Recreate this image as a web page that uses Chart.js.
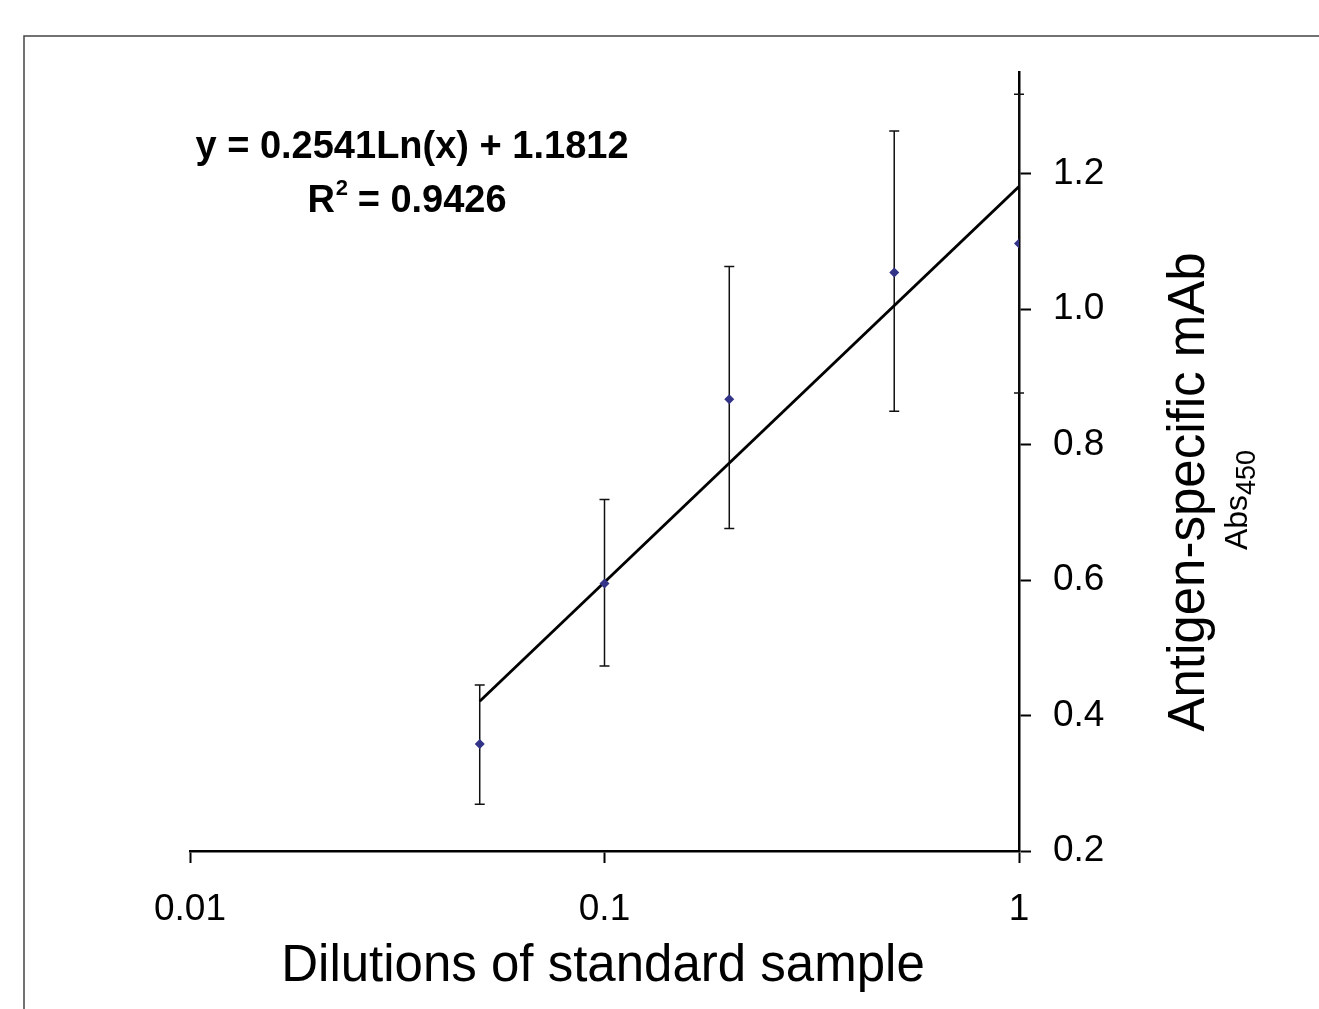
<!DOCTYPE html>
<html>
<head>
<meta charset="utf-8">
<script src="https://cdn.jsdelivr.net/npm/chart.js@4"></script>
<style>
  html, body { margin: 0; padding: 0; background: #fff; }
  #wrap { width: 1319px; height: 1009px; position: relative; }
</style>
</head>
<body>
<div id="wrap"><canvas id="chart" width="1319" height="1009"></canvas></div>
<script>
// data
const dilutions = [0.05, 0.1, 0.2, 0.5, 1];
const absMean = [0.358, 0.595, 0.867, 1.054, 1.097];
const errLow = [0.269, 0.473, 0.676, 0.849, 0.876];
const errHigh = [0.445, 0.719, 1.063, 1.263, 1.317];
// logarithmic trendline end points
const trendX = [0.05, 1];
const trendY = [0.421, 1.181];
const xTicks = [0.01, 0.1, 1];
const yTicks = [0.2, 0.4, 0.6, 0.8, 1.0, 1.2];

const FONT = '"Liberation Sans", Arial, sans-serif';

// error bars, drawn under the line and markers
const errorBars = {
    id: 'errorBars',
    beforeDatasetsDraw(chart) {
        const ctx = chart.ctx;
        const xs = chart.scales.x, ys = chart.scales.y;
        ctx.save();
        ctx.strokeStyle = '#111';
        ctx.lineWidth = 1.5;
        dilutions.forEach((d, i) => {
            const px = xs.getPixelForValue(d);
            const top = ys.getPixelForValue(errHigh[i]);
            const bot = ys.getPixelForValue(errLow[i]);
            ctx.beginPath();
            ctx.moveTo(px, top); ctx.lineTo(px, bot);
            ctx.moveTo(px - 5, top); ctx.lineTo(px + 5, top);
            ctx.moveTo(px - 5, bot); ctx.lineTo(px + 5, bot);
            ctx.stroke();
        });
        ctx.restore();
    }
};

// frame, equation and axis titles
const decorations = {
    id: 'decorations',
    afterDraw(chart) {
        const ctx = chart.ctx;
        ctx.save();
        // outer frame (top and left edges)
        ctx.strokeStyle = '#444';
        ctx.lineWidth = 1.5;
        ctx.beginPath();
        ctx.moveTo(24, 1009); ctx.lineTo(24, 36); ctx.lineTo(1319, 36);
        ctx.stroke();

        ctx.fillStyle = '#000';
        // trendline equation
        ctx.font = 'bold 38px ' + FONT;
        ctx.textBaseline = 'middle';
        ctx.textAlign = 'center';
        ctx.fillText('y = 0.2541Ln(x) + 1.1812', 412, 148);
        const partA = 'R', partB = ' = 0.9426';
        const wA = ctx.measureText(partA).width, wB = ctx.measureText(partB).width;
        ctx.font = 'bold 22px ' + FONT;
        const wS = ctx.measureText('2').width;
        let x0 = 407 - (wA + wS + wB) / 2;
        ctx.textAlign = 'left';
        ctx.font = 'bold 38px ' + FONT;
        ctx.fillText(partA, x0, 202);
        ctx.font = 'bold 22px ' + FONT;
        ctx.fillText('2', x0 + wA + 1, 189);
        ctx.font = 'bold 38px ' + FONT;
        ctx.fillText(partB, x0 + wA + wS, 202);

        // x axis title
        ctx.font = '51px ' + FONT;
        ctx.textAlign = 'center';
        ctx.fillText('Dilutions of standard sample', 603, 967);

        // y axis title, rotated
        ctx.translate(1190, 492);
        ctx.rotate(-Math.PI / 2);
        ctx.font = '51px ' + FONT;
        ctx.fillText('Antigen-specific mAb', 0, 0);
        ctx.textAlign = 'left';
        ctx.font = '32px ' + FONT;
        const wAbs = ctx.measureText('Abs').width;
        ctx.font = '27px ' + FONT;
        const w450 = ctx.measureText('450').width;
        const s0 = -8 - (wAbs + w450) / 2;
        ctx.font = '32px ' + FONT;
        ctx.fillText('Abs', s0, 48);
        ctx.font = '27px ' + FONT;
        ctx.fillText('450', s0 + wAbs, 58);
        ctx.restore();
    }
};

const ctx = document.getElementById('chart').getContext('2d');
new Chart(ctx, {
    type: 'scatter',
    data: {
        datasets: [
            {
                type: 'line',
                label: 'Trend',
                data: trendX.map((x, i) => ({ x: x, y: trendY[i] })),
                borderColor: '#000',
                borderWidth: 2.8,
                pointRadius: 0,
                fill: false,
                order: 2
            },
            {
                label: 'Abs450',
                data: dilutions.map((d, i) => ({ x: d, y: absMean[i] })),
                pointStyle: 'rectRot',
                pointRadius: 5,
                backgroundColor: '#333388',
                borderColor: '#333388',
                borderWidth: 0,
                order: 1
            }
        ]
    },
    options: {
        responsive: false,
        animation: false,
        events: [],
        layout: { padding: { left: 190, top: 72, right: 0, bottom: 0 } },
        plugins: {
            legend: { display: false },
            tooltip: { enabled: false }
        },
        scales: {
            x: {
                type: 'logarithmic',
                position: 'bottom',
                min: 0.01,
                max: 1,
                afterBuildTicks: scale => { scale.ticks = xTicks.map(v => ({ value: v, major: true })); },
                afterFit: scale => { scale.height = 158; },
                grid: { drawOnChartArea: false, drawTicks: true, tickLength: 12, tickWidth: 2, tickColor: '#000' },
                border: { display: true, color: '#000', width: 2.5 },
                ticks: {
                    autoSkip: false,
                    maxRotation: 0,
                    padding: 25,
                    color: '#000',
                    font: { family: FONT, size: 37 },
                    callback: v => String(v)
                }
            },
            y: {
                type: 'linear',
                position: 'right',
                min: 0.2,
                max: 1.35,
                afterBuildTicks: scale => { scale.ticks = yTicks.map(v => ({ value: v })); },
                afterFit: scale => { scale.width = 300; },
                grid: { drawOnChartArea: false, drawTicks: true, tickLength: 12, tickWidth: 2, tickColor: '#000' },
                border: { display: true, color: '#000', width: 2.5 },
                ticks: {
                    padding: 22,
                    color: '#000',
                    font: { family: FONT, size: 37 },
                    callback: v => Number(v).toFixed(1)
                }
            }
        }
    },
    plugins: [errorBars, decorations]
});
</script>
</body>
</html>
